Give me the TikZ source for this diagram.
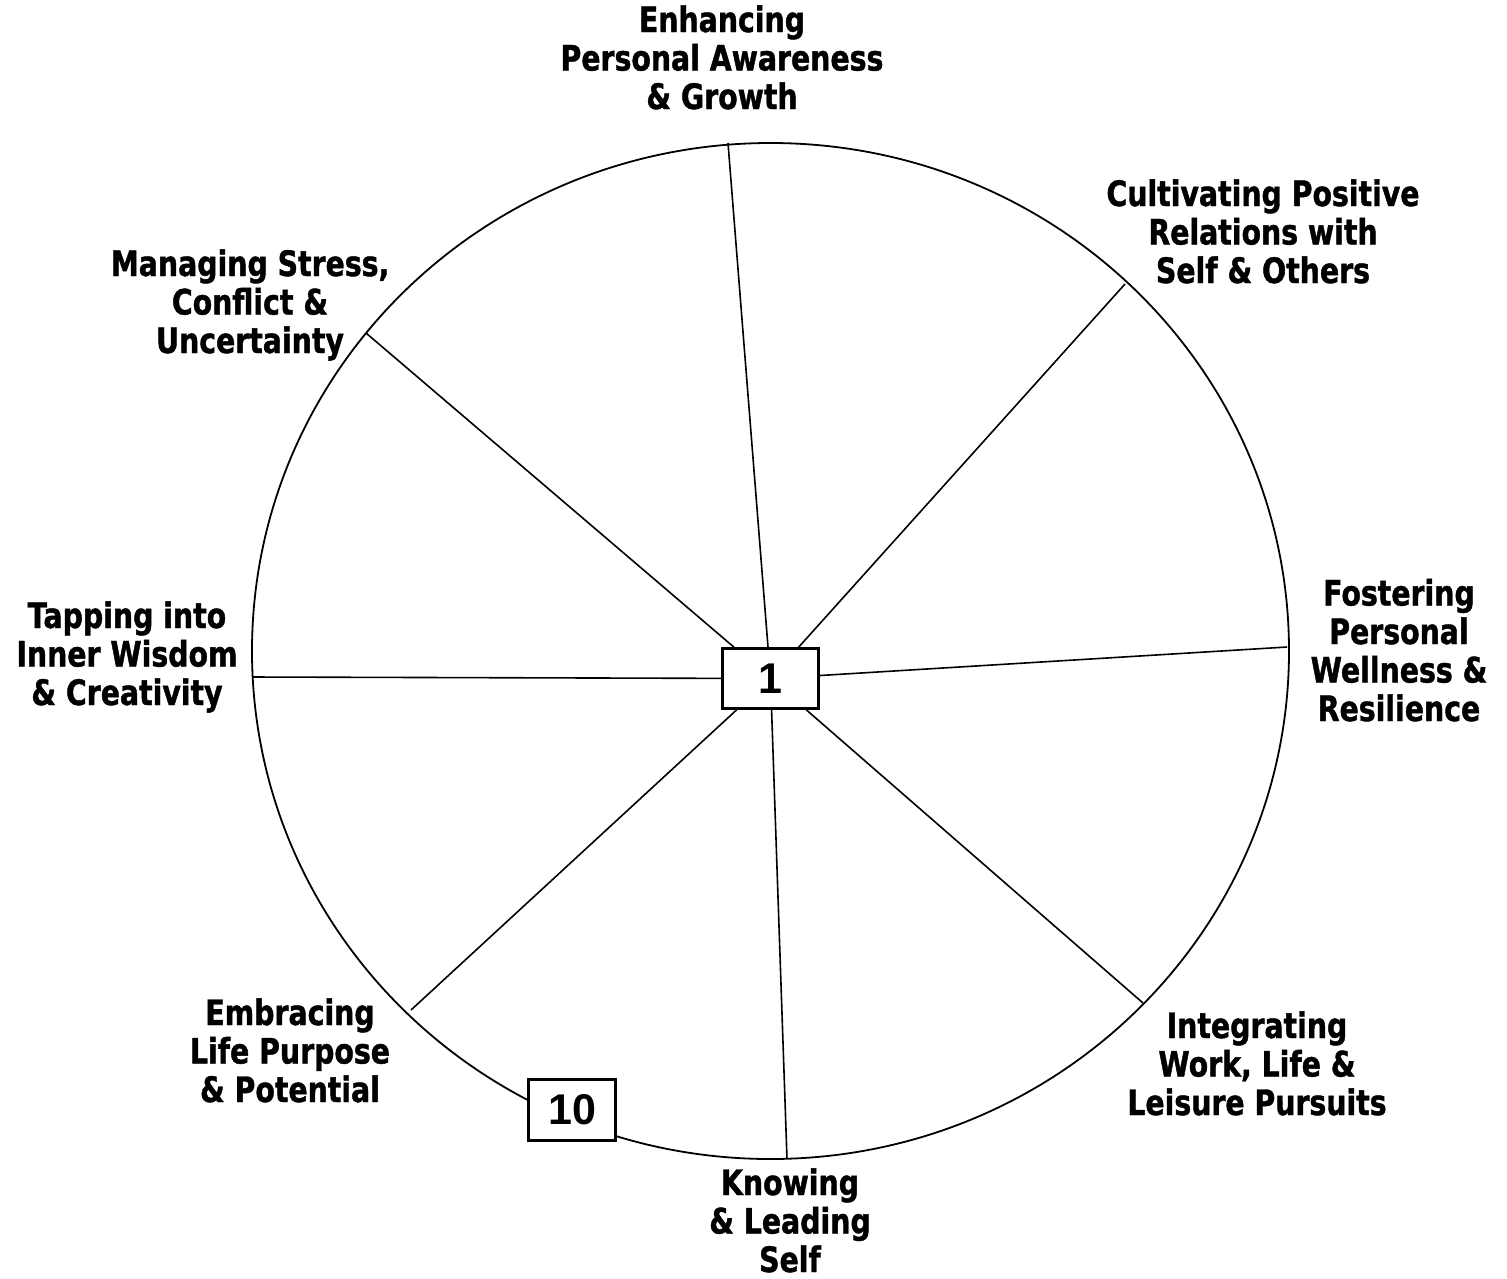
\documentclass[tikz,border=0pt]{standalone}
\usepackage{fontspec}
\setmainfont{DejaVu Sans}[FakeStretch=0.81,BoldFeatures={FakeBold=1.2}]
\newfontfamily\numfont{Liberation Sans}
\begin{document}
\begin{tikzpicture}[x=1pt,y=-1pt,
  rim/.style={line width=1.8pt},
  spoke/.style={line width=1.6pt},
  numbox/.style={draw,line width=2.6pt,fill=white,inner sep=0pt,font=\numfont\bfseries\fontsize{43}{43}\selectfont},
  lbl/.style={align=center,inner sep=0pt,anchor=base,font=\bfseries\fontsize{35}{38.5}\selectfont}]
\useasboundingbox (0,0) rectangle (1507,1278);
\draw[rim] (770.5,651) ellipse [x radius=518.5, y radius=508];
\coordinate (e1) at (728,143);
\coordinate (e2) at (1125,284);
\coordinate (e3) at (1287,647);
\coordinate (e4) at (1143,1003);
\coordinate (e5) at (787,1159);
\coordinate (e6) at (411,1010);
\coordinate (e7) at (252,677);
\coordinate (e8) at (366,333);
\node[numbox,minimum width=96pt,minimum height=60pt] (c) at (770.5,678.5) {1};
\foreach \e in {e1,e2,e3,e4,e5,e6,e7,e8} \draw[spoke] (c) -- (\e);
\node[numbox,minimum width=87pt,minimum height=61pt] (ten) at (572,1110) {10};
\node[lbl] (l1) at (722,109) {Enhancing\\Personal Awareness\\\& Growth};
\node[lbl] (l2) at (1263,283) {Cultivating Positive\\Relations with\\Self \& Others};
\node[lbl] (l3) at (1399,721) {Fostering\\Personal\\Wellness \&\\Resilience};
\node[lbl] (l4) at (1257,1115) {Integrating\\Work, Life \&\\Leisure Pursuits};
\node[lbl] (l5) at (790,1272) {Knowing\\\& Leading\\Self};
\node[lbl] (l6) at (290,1102) {Embracing\\Life Purpose\\\& Potential};
\node[lbl] (l7) at (127,705) {Tapping into\\Inner Wisdom\\\& Creativity};
\node[lbl] (l8) at (250,353) {Managing Stress,\\Conflict \&\\Uncertainty};
\end{tikzpicture}
\end{document}
